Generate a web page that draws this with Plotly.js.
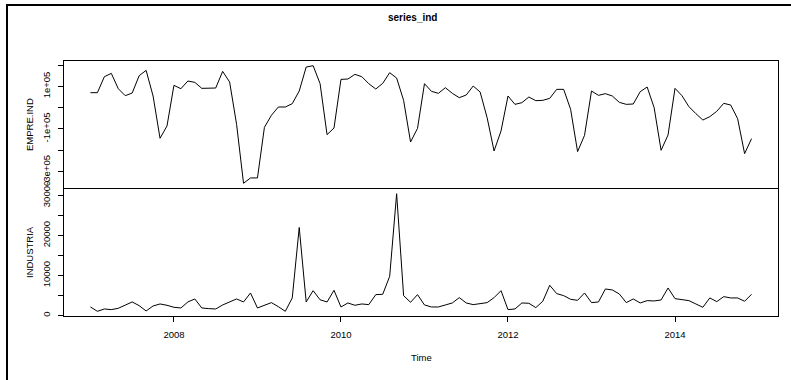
<!DOCTYPE html>
<html>
<head>
<meta charset="utf-8">
<script src="https://cdn.plot.ly/plotly-3.0.1.min.js"></script>
<style>
html,body{margin:0;padding:0;background:#fff;overflow:hidden;}
#chart{width:791px;height:380px;position:absolute;left:0;top:0;}
#frame{position:absolute;left:6px;top:4px;width:900px;height:500px;border-left:2px solid #000;border-top:2px solid #000;pointer-events:none;}
</style>
</head>
<body>
<div id="chart"></div>
<div id="frame"></div>
<script>
// Monthly series, Jan 2007 .. Dec 2014
var startYear = 2007;
var frequency = 12;

var empreInd = [
  70400, 70400, 145700, 161300, 89200, 56300, 68800, 150400, 175400, 54700, -144400, -86400,
  104900, 89200, 125300, 119000, 90800, 90800, 92300, 170700, 120600, -78600, -356100, -331000,
  -331000, -92700, -36200, 3000, 3000, 18700, 78200, 191100, 197400, 112700, -127100, -95800,
  133100, 134700, 156600, 145700, 112700, 87600, 114300, 164500, 139400, 34300, -161700, -97400,
  112700, 76700, 67300, 93900, 67300, 46900, 59400, 101700, 73500, -47200, -204000, -109900,
  54700, 15500, 23400, 50000, 32800, 34300, 43700, 86100, 86100, -8000, -207100, -130300,
  78200, 57900, 65700, 54700, 24900, 15500, 17100, 75100, 97000, 0, -200800, -128700,
  90800, 56300, 4600, -28400, -58200, -42500, -17400, 20200, 12400, -51900, -216500, -146000
];

var industria = [
  2160, 1080, 1660, 1500, 1830, 2580, 3410, 2490, 1160, 2410, 2910, 2580,
  2080, 1910, 3410, 4160, 1910, 1750, 1660, 2660, 3490, 4160, 3410, 5650,
  1910, 2490, 3240, 2240, 1080, 4410, 22000, 3410, 6230, 3950, 3410, 6320,
  2160, 3160, 2580, 2910, 2740, 5240, 5320, 9810, 30420, 4990, 3330, 5240,
  2660, 2160, 2160, 2660, 3160, 4490, 3160, 2740, 2990, 3240, 4490, 6230,
  1500, 1660, 3160, 3080, 2000, 3580, 7570, 5490, 4990, 4070, 3820, 5650,
  3240, 3410, 6650, 6400, 5400, 3240, 4160, 3160, 3740, 3660, 3910, 6900,
  4240, 4070, 3740, 2910, 2080, 4410, 3490, 4740, 4410, 4410, 3580, 5320
];

var xTickVals = [2008, 2010, 2012, 2014];
var xTickText = ['2008', '2010', '2012', '2014'];
var empreTickVals = [-300000, -200000, -100000, 0, 100000, 200000];
var empreTickText = ['-3e+05', '', '-1e+05', '', '1e+05', ''];
var indTickVals = [0, 5000, 10000, 15000, 20000, 25000, 30000];
var indTickText = ['0', '', '10000', '', '20000', '', '30000'];

var times = empreInd.map(function (_, i) { return startYear + i / frequency; });

function extRange(a) {
  var mn = Math.min.apply(null, a), mx = Math.max.apply(null, a);
  var d = (mx - mn) * 0.04;
  return [mn - d, mx + d];
}
var xr = extRange(times);

var font = 'Liberation Sans, Arial, Helvetica, sans-serif';
var L = 64, R = 13, T = 61, B = 64, W = 791, H = 380;
var pw = W - L - R, ph = H - T - B;
function px(x) { return (x - L) / pw; }
function py(y) { return (H - B - y) / ph; }

var traces = [
  {x: times, y: industria, type: 'scatter', mode: 'lines', xaxis: 'x', yaxis: 'y',
   line: {color: '#000', width: 1}, hoverinfo: 'skip'},
  {x: times, y: empreInd, type: 'scatter', mode: 'lines', xaxis: 'x2', yaxis: 'y2',
   line: {color: '#000', width: 1}, hoverinfo: 'skip'}
];

var yCommon = {
  showgrid: false, zeroline: false, showline: true, mirror: true,
  linecolor: '#000', linewidth: 1, ticks: 'outside', ticklen: 5, tickwidth: 1,
  tickcolor: '#000', tickangle: -90, ticklabelstandoff: 4,
  tickfont: {family: font, size: 9.5, color: '#000'}, tickmode: 'array'
};

function ann(text, x, y, angle, size) {
  return {text: text, xref: 'paper', yref: 'paper', x: px(x), y: py(y),
    xanchor: 'center', yanchor: 'middle', textangle: angle || 0,
    showarrow: false, font: {family: font, size: size || 9.5, color: '#000'}};
}

var layout = {
  width: W, height: H,
  margin: {l: L, r: R, t: T, b: B, pad: 0},
  paper_bgcolor: '#fff', plot_bgcolor: '#fff',
  showlegend: false,
  xaxis: {
    range: xr, anchor: 'y', showgrid: false, zeroline: false, showline: true, mirror: true,
    linecolor: '#000', linewidth: 1, ticks: 'outside', ticklen: 5, tickcolor: '#000',
    tickmode: 'array', tickvals: xTickVals, ticktext: xTickText, ticklabelstandoff: 5,
    tickfont: {family: font, size: 9.5, color: '#000'}
  },
  xaxis2: {
    range: xr, anchor: 'y2', matches: 'x', showgrid: false, zeroline: false, showline: true,
    mirror: true, linecolor: '#000', linewidth: 1, showticklabels: false, ticks: ''
  },
  yaxis: Object.assign({}, yCommon, {
    domain: [0, 0.498], range: extRange(industria), tickvals: indTickVals, ticktext: indTickText
  }),
  yaxis2: Object.assign({}, yCommon, {
    domain: [0.502, 1], range: extRange(empreInd), tickvals: empreTickVals, ticktext: empreTickText
  }),
  annotations: [
    ann('<b>series_ind</b>', 412, 18, 0, 10),
    ann('Time', 421, 357, 0, 9.5),
    ann('EMPRE.IND', 29, 125, -90, 9.5),
    ann('INDUSTRIA', 29, 252, -90, 9.5)
  ]
};

Plotly.newPlot('chart', traces, layout, {displayModeBar: false, staticPlot: true});
</script>
</body>
</html>
